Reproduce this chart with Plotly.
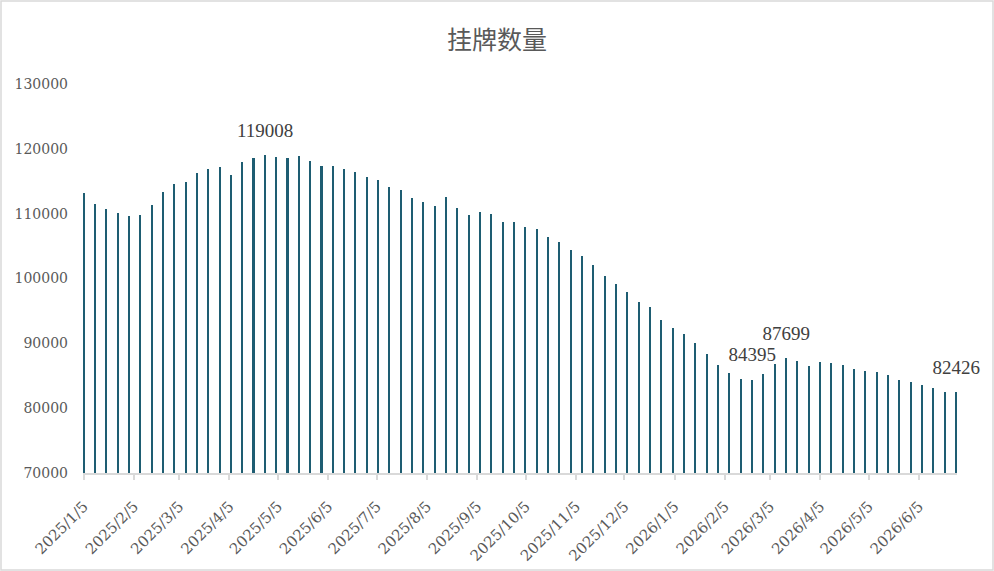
import pandas as pd
import plotly.graph_objects as go

# Weekly dates (Sundays) starting 2025-01-05
dates = pd.date_range("2025-01-05", periods=78, freq="7D").strftime("%Y-%m-%d").tolist()

listings = [
    113180, 111480, 110710, 110090, 109620, 109780, 111320, 113380, 114620, 114880,
    116270, 116890, 117200, 115960, 117970, 118590, 119008, 118745, 118590, 118900,
    118130, 117350, 117350, 116890, 116430, 115650, 115190, 114110, 113640, 112410,
    111790, 111170, 112560, 110860, 109780, 110240, 109930, 108700, 108650, 107920,
    107610, 106380, 105600, 104370, 103440, 102050, 100350, 99110, 97870, 96330,
    95560, 93550, 92310, 91380, 89990, 88290, 86590, 85350, 84470, 84395,
    85210, 86760, 87699, 87315, 86430, 87050, 87000, 86590, 86080, 85660,
    85510, 85150, 84380, 83960, 83650, 83140, 82570, 82426,
]

label_idx = [16, 59, 62, 77]
label_x = [dates[i] for i in label_idx]
label_y = [listings[i] for i in label_idx]
label_text = [str(v) for v in label_y]

title_text = "挂牌数量"
y_ticks = [70000, 80000, 90000, 100000, 110000, 120000, 130000]

BAR_COLOR = "#1E5D72"
TICK_FONT = dict(family="DejaVu Serif", size=14, color="#595959")

fig = go.Figure()
fig.add_trace(go.Bar(
    x=dates, y=listings,
    width=0.95 * 86400000,
    marker=dict(color=BAR_COLOR, line=dict(width=0)),
    showlegend=False, hoverinfo="skip",
))
fig.add_trace(go.Scatter(
    x=label_x, y=label_y, text=label_text,
    mode="markers+text", textposition="top center",
    marker=dict(size=20, opacity=0),
    textfont=dict(family="Liberation Serif", size=19, color="#404040"),
    showlegend=False, hoverinfo="skip", cliponaxis=False,
))

L, R, T, B = 83, 37, 84, 98
W, H = 994, 571
pw, ph = W - L - R, H - T - B

fig.update_layout(
    width=W, height=H,
    margin=dict(l=L, r=R, t=T, b=B, autoexpand=False),
    paper_bgcolor="white", plot_bgcolor="white",
    title=dict(text=title_text, x=0.5, xref="container", xanchor="center",
               y=1 - 40 / H, yref="container", yanchor="middle",
               font=dict(family="Noto Sans CJK SC", size=25, color="#595959")),
    xaxis=dict(
        type="date", automargin=False,
        range=["2025-01-04 12:00", "2026-06-28 12:00"],
        tick0="2025-01-05", dtick="M1", tickformat="%Y/%-m/%-d",
        tickangle=-45, ticks="outside", ticklen=5, tickcolor="#D9D9D9", tickwidth=1.5,
        showline=True, linecolor="#D9D9D9", linewidth=1.5,
        showgrid=False, zeroline=False, tickfont=dict(TICK_FONT, size=15),
        ticklabelstandoff=12,
    ),
    yaxis=dict(
        range=[70000, 130000], tickvals=y_ticks, tickformat="d", automargin=False,
        showgrid=False, zeroline=False, showline=False,
        ticks="", ticklabelstandoff=14, tickfont=TICK_FONT,
    ),
    bargap=0,
    shapes=[dict(
        type="rect", xref="paper", yref="paper",
        x0=(1 - L) / pw, x1=(W - 1 - L) / pw,
        y0=-(H - 1 - T - ph) / ph, y1=(ph + T - 1) / ph,
        line=dict(color="#D9D9D9", width=1.5), layer="below",
    )],
)

fig.write_html("out.html", config={"displayModeBar": False},
               post_script="document.body.style.margin='0';")
